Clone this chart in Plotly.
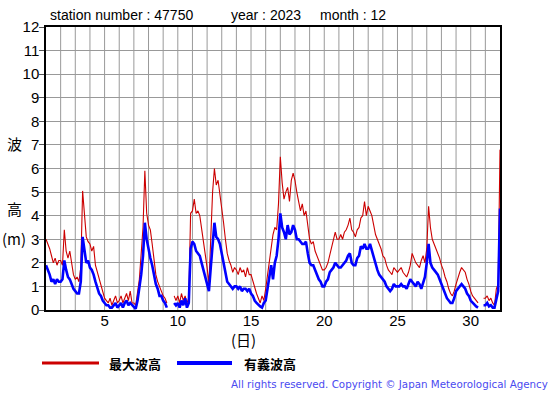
import plotly.graph_objects as go

# ---------------- data (3-hourly, 8 values per day, day 1 .. day 31, plus day 32 00h) ----------------
days = list(range(1, 32))
hours = [0, 3, 6, 9, 12, 15, 18, 21]

max_wave = [
    # d1
    3.0, 2.8, 2.6, 2.3, 2.0, 2.2, 1.9, 2.1,
    # d2
    2.1, 1.9, 3.4, 2.5, 2.2, 2.5, 1.9, 1.5,
    # d3
    1.3, 1.4, 1.2, 1.8, 5.05, 4.2, 3.1, 2.9,
    # d4
    2.8, 2.5, 2.7, 1.9, 1.6, 1.3, 1.0, 0.8,
    # d5
    0.5, 0.4, 0.3, 0.5, 0.2, 0.4, 0.6, 0.3,
    # d6
    0.4, 0.6, 0.3, 0.5, 0.7, 0.4, 0.8, 0.3,
    # d7
    0.3, 0.2, 0.7, 1.3, 2.4, 3.5, 5.9, 4.1,
    # d8
    3.6, 3.4, 2.8, 2.2, 1.5, 1.2, 1.0, 0.8,
    # d9
    0.6, 0.5, 0.3, None, None, None, 0.6, 0.4,
    # d10
    0.6, 0.3, 0.7, 0.4, 0.6, 0.3, 0.5, 4.1,
    # d11
    4.2, 4.7, 4.1, 4.2, 4.0, 3.5, 3.0, 2.5,
    # d12
    1.8, 1.1, 2.8, 5.0, 6.0, 5.3, 5.5, 4.9,
    # d13
    4.5, 3.7, 3.0, 2.4, 2.1, 1.9, 1.6, 1.8,
    # d14
    1.7, 1.5, 1.8, 1.6, 1.7, 1.4, 1.8, 1.5,
    # d15
    1.5, 1.2, 1.0, 0.7, 0.5, 0.3, 0.6, 0.4,
    # d16
    0.9, 1.5, 2.2, 2.6, 3.2, 3.5, 3.4, 4.5,
    # d17
    6.5, 5.4, 4.7, 5.0, 5.2, 4.6, 5.5, 5.8,
    # d18
    5.5, 5.0, 4.5, 4.2, 4.5, 4.0, 4.2, 3.6,
    # d19
    3.0, 2.8, 2.9, 2.5, 2.3, 2.1, 1.9, 1.7,
    # d20
    1.7, 1.8, 2.0, 2.3, 2.6, 2.9, 3.3, 3.0,
    # d21
    3.0, 3.2, 3.0, 3.3, 3.4, 3.6, 3.9, 3.4,
    # d22
    3.3, 3.1, 3.4, 3.5, 3.9, 4.0, 4.6, 4.0,
    # d23
    4.4, 4.2, 4.0, 3.6, 3.2, 3.0, 2.8, 2.6,
    # d24
    2.3, 2.2, 1.9, 1.7, 1.6, 1.5, 1.8, 1.7,
    # d25
    1.6, 1.7, 1.8, 1.6, 1.5, 1.4, 1.6, 1.9,
    # d26
    2.4, 2.2, 2.0, 1.9, 1.8, 2.1, 2.3, 2.0,
    # d27
    2.6, 4.4, 3.5, 3.0, 2.8, 2.6, 2.4, 2.2,
    # d28
    1.9, 1.7, 1.4, 1.2, 0.9, 0.7, 0.6, 0.8,
    # d29
    1.1, 1.4, 1.6, 1.8, 1.7, 1.6, 1.3, 1.1,
    # d30
    0.8, 0.6, 0.5, 0.4, 0.3, None, None, 0.5,
    # d31
    0.5, 0.6, 0.4, 0.5, 0.3, 0.2, 0.9, 1.1,
    # d32 00h
    6.8,
]

sig_wave = [
    1.9, 1.7, 1.5, 1.2, 1.3, 1.1, 1.3, 1.2,
    1.2, 1.3, 2.1, 1.7, 1.4, 1.3, 1.1, 0.9,
    0.8, 0.7, 0.7, 1.2, 3.1, 2.6, 2.0, 2.1,
    1.8, 1.7, 1.5, 1.2, 0.9, 0.7, 0.6, 0.4,
    0.3, 0.2, 0.2, 0.1, 0.1, 0.2, 0.3, 0.1,
    0.2, 0.3, 0.1, 0.3, 0.4, 0.2, 0.3, 0.2,
    0.1, 0.05, 0.4, 0.9, 1.5, 2.3, 3.7, 3.0,
    2.5, 2.2, 1.9, 1.4, 1.1, 0.9, 0.6, 0.6,
    0.4, 0.3, 0.1, None, None, None, 0.3, 0.2,
    0.3, 0.1, 0.4, 0.2, 0.5, 0.1, 0.3, 2.6,
    2.9, 2.8, 2.5, 2.4, 2.3, 2.0, 1.7, 1.3,
    1.0, 0.8, 1.8, 2.7, 3.7, 3.1, 3.0, 2.8,
    2.4, 2.0, 1.5, 1.2, 1.1, 1.0, 0.9, 1.0,
    1.0, 0.9, 1.0, 0.8, 0.9, 0.9, 0.8, 0.9,
    0.7, 0.6, 0.4, 0.3, 0.2, 0.15, 0.1, 0.3,
    0.4, 0.9, 1.5, 1.9, 1.3, 2.0, 2.3, 3.0,
    4.1, 3.5, 3.3, 3.0, 3.6, 3.2, 3.3, 3.6,
    3.4, 3.0, 3.0, 2.9, 2.8, 2.8, 2.9, 2.4,
    2.0, 1.9, 1.9, 1.7, 1.5, 1.3, 1.2, 1.0,
    1.0, 1.2, 1.3, 1.6, 1.7, 1.8, 2.0, 1.9,
    1.8, 1.8, 1.9, 2.0, 2.1, 2.3, 2.4, 2.0,
    1.9, 1.9, 2.2, 2.3, 2.7, 2.6, 2.8, 2.6,
    2.6, 2.8, 2.5, 2.2, 1.9, 1.7, 1.5, 1.4,
    1.3, 1.2, 1.0, 0.9, 0.8, 0.9, 1.1, 1.0,
    1.0, 1.0, 1.1, 1.0, 1.0, 0.9, 1.1, 1.3,
    1.2, 1.1, 1.0, 1.2, 1.1, 0.9, 1.2, 1.4,
    2.0, 2.8, 2.0, 1.8, 1.7, 1.6, 1.5, 1.3,
    1.1, 0.9, 0.7, 0.5, 0.4, 0.3, 0.3, 0.5,
    0.8, 0.9, 1.0, 1.1, 1.0, 0.9, 0.7, 0.6,
    0.4, 0.3, 0.2, 0.15, 0.1, None, None, 0.2,
    0.2, 0.3, 0.15, 0.2, 0.1, 0.1, 0.5, 0.8,
    4.3,
]

x_ticks = [5, 10, 15, 20, 25, 30]
y_ticks = list(range(0, 13))
title_parts = ["station number : 47750", "year : 2023", "month : 12"]
legend_names = ["最大波高", "有義波高"]
copyright_text = "All rights reserved. Copyright \u00a9 Japan Meteorological Agency"

times = [d + h / 24 for d in days for h in hours] + [32.0]

# ---------------- geometry helpers ----------------
W, H = 555, 395
L, R, T, B = 46, 500, 27, 310


def px(xp):
    return (xp - L) / (R - L)


def py(yp):
    return (B - yp) / (B - T)


RED = "#cc0000"
BLUE = "#0000ff"
FONT = "Liberation Sans, Arial, sans-serif"
CJK = "Noto Sans CJK JP"

fig = go.Figure()
fig.add_trace(go.Scatter(x=times, y=max_wave, mode="lines",
                         line=dict(color=RED, width=1.1),
                         name=legend_names[0], connectgaps=False,
                         showlegend=False))
fig.add_trace(go.Scatter(x=times, y=sig_wave, mode="lines",
                         line=dict(color=BLUE, width=2.6),
                         name=legend_names[1], connectgaps=False,
                         showlegend=False))

fig.update_layout(
    width=W, height=H,
    margin=dict(l=L, r=W - R, t=T, b=H - B),
    paper_bgcolor="white", plot_bgcolor="white",
    font=dict(family=FONT, size=15, color="black"),
    xaxis=dict(range=[1, 32], tickmode="array", tickvals=x_ticks,
               ticktext=[str(v) for v in x_ticks],
               showgrid=False, zeroline=False,
               showline=True, linecolor="black", linewidth=1.5, mirror=True,
               ticks="", tickfont=dict(size=15), ticklabelstandoff=-4),
    yaxis=dict(range=[0, 12], tickmode="array", tickvals=y_ticks,
               showgrid=True, gridcolor="#999999", gridwidth=1,
               zeroline=False,
               showline=True, linecolor="black", linewidth=1.5, mirror=True,
               ticks="outside", ticklen=5, tickcolor="#555555",
               tickfont=dict(size=15), ticklabelstandoff=-3),
    showlegend=False,
)

# vertical day grid lines
for d in range(2, 32):
    fig.add_shape(type="line", xref="x", yref="paper", x0=d, x1=d, y0=0, y1=1,
                  line=dict(color="#999999", width=1), layer="below")

ann = []
# title parts
for text, xp in zip(title_parts, [48, 229, 318]):
    ann.append(dict(text=text, x=px(xp), y=py(15), xref="paper", yref="paper",
                    xanchor="left", yanchor="middle", showarrow=False,
                    font=dict(size=14, color="black")))
# y axis title (stacked)
for text, yp in [("波", 143), ("高", 208), ("(m)", 238)]:
    ann.append(dict(text=text, x=px(14), y=py(yp), xref="paper", yref="paper",
                    xanchor="center", yanchor="middle", showarrow=False,
                    font=dict(size=15, color="black", family=CJK)))
# x axis title
ann.append(dict(text="(日)", x=px(243), y=py(339), xref="paper", yref="paper",
                xanchor="center", yanchor="middle", showarrow=False,
                font=dict(size=15, color="black", family=CJK)))
# legend texts
ann.append(dict(text="<b>" + legend_names[0] + "</b>", x=px(107), y=py(363),
                xref="paper", yref="paper", xanchor="left", yanchor="middle",
                showarrow=False, font=dict(size=13, color="black", family=CJK)))
ann.append(dict(text="<b>" + legend_names[1] + "</b>", x=px(242), y=py(363),
                xref="paper", yref="paper", xanchor="left", yanchor="middle",
                showarrow=False, font=dict(size=13, color="black", family=CJK)))
# copyright
ann.append(dict(text=copyright_text, x=px(550), y=py(384), xref="paper", yref="paper",
                xanchor="right", yanchor="middle", showarrow=False,
                font=dict(size=10.3, color="#4a4af0", family="DejaVu Sans")))
fig.update_layout(annotations=ann)

# legend line samples
fig.add_shape(type="line", xref="paper", yref="paper", x0=px(42), x1=px(99),
              y0=py(363), y1=py(363), line=dict(color=RED, width=3))
fig.add_shape(type="line", xref="paper", yref="paper", x0=px(177), x1=px(232),
              y0=py(363), y1=py(363), line=dict(color=BLUE, width=4))

fig.write_html("out.html",
               config={"displayModeBar": False},
               post_script="document.body.style.margin='0px';document.body.style.padding='0px';")
